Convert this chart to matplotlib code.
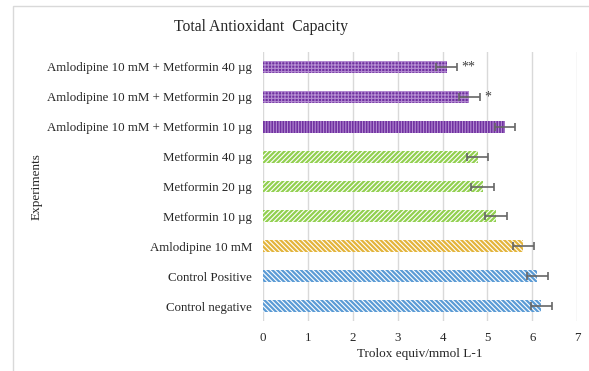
import matplotlib
matplotlib.use("Agg")
import matplotlib.pyplot as plt
from matplotlib.patches import Rectangle

plt.rcParams['font.family'] = ['Liberation Serif', 'DejaVu Serif']
plt.rcParams['hatch.linewidth'] = 0.8

# data, bottom to top
groups = ["Control negative", "Control Positive", "Amlodipine 10 mM",
          "Metformin 10 µg", "Metformin 20 µg", "Metformin 40 µg",
          "Amlodipine 10 mM + Metformin 10 µg",
          "Amlodipine 10 mM + Metformin 20 µg",
          "Amlodipine 10 mM + Metformin 40 µg"]
values = [6.20, 6.11, 5.80, 5.19, 4.89, 4.78, 5.39, 4.60, 4.09]
errors = [0.24, 0.235, 0.23, 0.24, 0.25, 0.24, 0.23, 0.24, 0.24]
stars = ["", "", "", "", "", "", "", "*", "**"]

colors = ["#5B9BD5", "#5B9BD5", "#E3B43C", "#92D050", "#92D050", "#92D050",
          "#7030A0", "#7030A0", "#7030A0"]
hatch_colors = ["white"] * 6 + ["#B48CD2"] * 3
hatches = ["\\" * 7, "\\" * 7, "\\" * 7, "/" * 7, "/" * 7, "/" * 7,
           "|" * 6, "+" * 5, "+" * 5]

fig = plt.figure(figsize=(5.89, 3.71), dpi=100)
ax = fig.add_axes([0.4465, 0.1348, 0.5335, 0.725])

# chart border
fig.patches.append(Rectangle((13 / 589, -0.1), 1.2, 1.085, transform=fig.transFigure,
                             fill=False, edgecolor="#D9D9D9", linewidth=1))

ypos = list(range(len(groups)))
for i in ypos:
    ax.barh(i, values[i], height=0.4, color=colors[i], edgecolor=hatch_colors[i],
            hatch=hatches[i], linewidth=0, zorder=2)
ax.errorbar(values, ypos, xerr=errors, fmt="none", ecolor="#666666",
            elinewidth=1.2, capsize=3, capthick=1.2, zorder=3)
for i in ypos:
    if stars[i]:
        ax.text(values[i] + errors[i] + 0.08, i, stars[i], va="center",
                ha="left", fontsize=10, color="#404040")

ax.set_xlim(0, 7)
ax.set_ylim(-0.5, len(groups) - 0.5)
ax.set_xticks(range(8))
ax.set_yticks(ypos)
ax.set_yticklabels(groups)
ax.tick_params(length=0, labelsize=9.3, colors="#262626", pad=8)
ax.tick_params(axis="x", pad=8)
ax.grid(axis="x", color="#D9D9D9", linewidth=1, zorder=0)
ax.set_axisbelow(True)
for s in ax.spines.values():
    s.set_visible(False)

ax.set_xlabel("Trolox equiv/mmol L-1", fontsize=9.5, color="#262626", labelpad=3)
fig.text(37 / 589, 1 - 187 / 371, "Experiments", rotation=90, fontsize=9.5,
         color="#262626", ha="center", va="center")
fig.text(261 / 589, 1 - 27 / 371, "Total Antioxidant  Capacity", fontsize=11.3,
         color="#262626", ha="center", va="center")

fig.savefig("out.png", dpi=100)
